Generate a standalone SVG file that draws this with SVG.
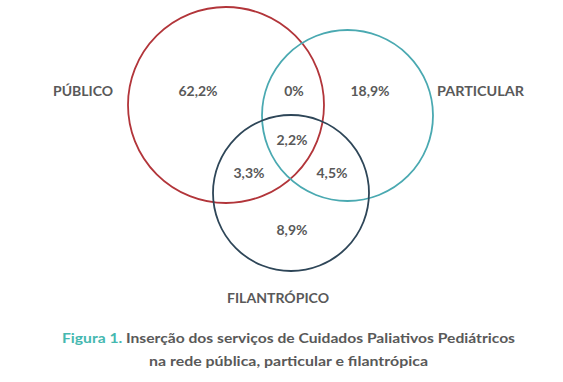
<svg xmlns="http://www.w3.org/2000/svg" width="563" height="382" viewBox="0 0 563 382">
<style>
.c{fill:none;stroke-width:1.8}
.t{font-family:Lato,"Liberation Sans",sans-serif;font-weight:bold;font-size:14px;fill:#595959;text-anchor:middle}
.cap{font-family:Lato,"Liberation Sans",sans-serif;font-weight:bold;font-size:14px;fill:#595959;text-anchor:middle}
</style>
<rect width="563" height="382" fill="#ffffff"/>
<g id="publico">
<circle class="c" cx="226" cy="105" r="98" stroke="#b2353a"/>
<text class="t" x="83" y="96" textLength="60" lengthAdjust="spacingAndGlyphs">PÚBLICO</text>
</g>
<g id="particular">
<circle class="c" cx="347.5" cy="115.5" r="85.5" stroke="#4aa9b1"/>
<text class="t" x="480.5" y="96" textLength="87" lengthAdjust="spacingAndGlyphs">PARTICULAR</text>
</g>
<g id="filantropico">
<circle class="c" cx="291" cy="193" r="78" stroke="#2e4658"/>
<text class="t" x="278" y="303" textLength="102" lengthAdjust="spacingAndGlyphs">FILANTRÓPICO</text>
</g>
<g id="values">
<text class="t" x="198" y="96">62,2%</text>
<text class="t" x="294" y="96">0%</text>
<text class="t" x="370" y="96">18,9%</text>
<text class="t" x="292" y="145">2,2%</text>
<text class="t" x="249" y="178">3,3%</text>
<text class="t" x="332" y="178">4,5%</text>
<text class="t" x="292" y="235">8,9%</text>
</g>
<g id="connectors"></g>
<g id="caption">
<text class="cap" x="288.5" y="343" textLength="453" lengthAdjust="spacingAndGlyphs"><tspan fill="#45b8b0">Figura 1.</tspan> Inserção dos serviços de Cuidados Paliativos Pediátricos</text>
<text class="cap" x="288.5" y="366" textLength="279" lengthAdjust="spacingAndGlyphs">na rede pública, particular e filantrópica</text>
</g>
</svg>
